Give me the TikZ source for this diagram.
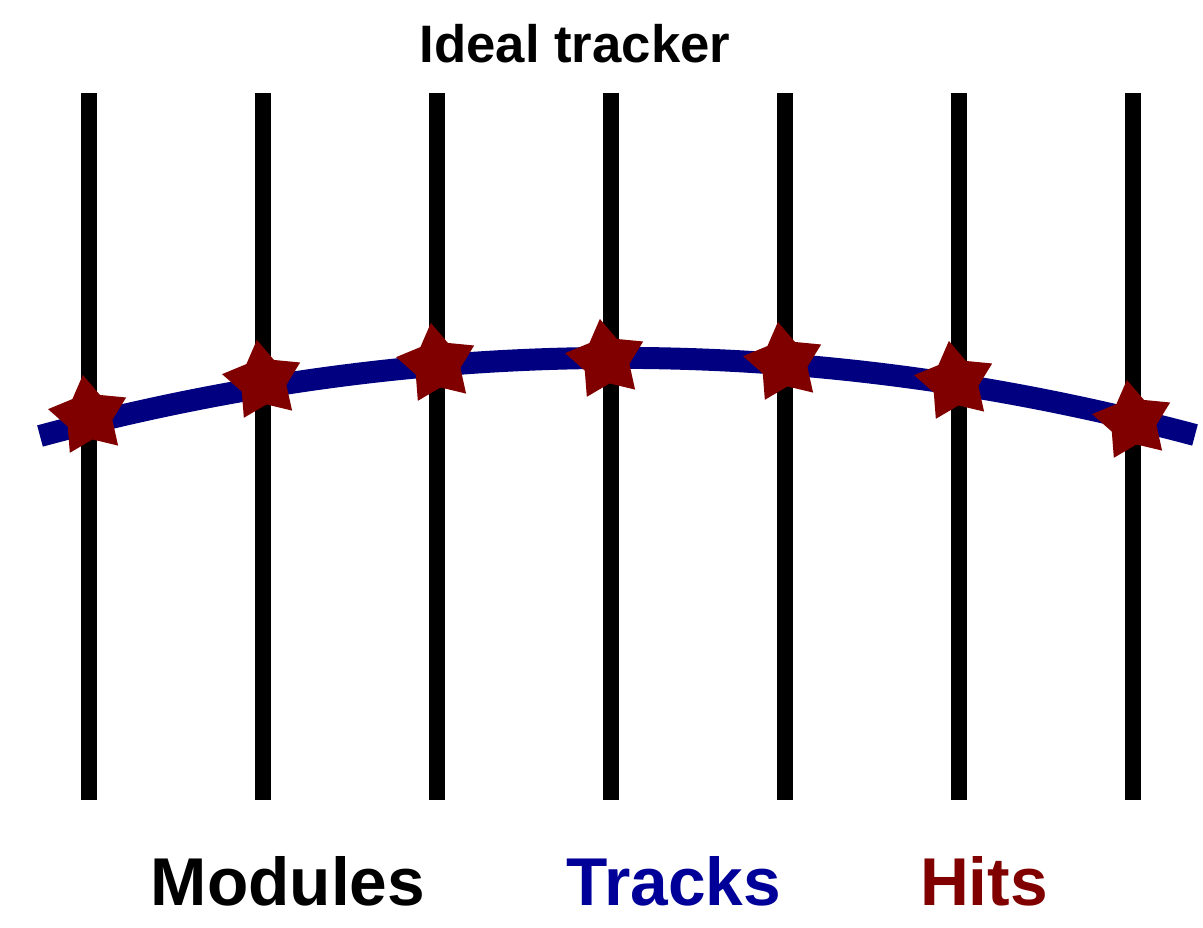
\documentclass[tikz,border=0pt]{standalone}
\usepackage{fontspec}
\setmainfont{Liberation Sans}
\usetikzlibrary{shapes.geometric}
\definecolor{trackblue}{HTML}{000080}
\definecolor{tracktext}{HTML}{000099}
\definecolor{hitred}{HTML}{800000}

\begin{document}
\begin{tikzpicture}[x=0.02cm, y=-0.02cm, font=\bfseries,
    module/.style={black, line width=0.32cm},
    track/.style={trackblue, line width=0.44cm},
    hit/.style={star, star points=5, star point ratio=1.75, minimum size=1.66cm, inner sep=0pt, fill=hitred, rotate=8.5},
    legend/.style={anchor=base, font=\fontsize{38.5}{46}\selectfont\bfseries}]
    \useasboundingbox (0,0) rectangle (1203,928);

    \node[anchor=base, font=\fontsize{30}{36}\selectfont\bfseries] (title) at (575,63) {Ideal tracker};

    % modules
    \foreach \x in {89,263,437,611,785,959,1133}
        \draw[module] (\x,93) -- (\x,800);

    % track
    \draw[track] (40,436) .. controls (425,332) and (810,332) .. (1195,435);

    % hits
    \foreach \x/\y [count=\i] in {89/416, 263/381, 437/364, 606/360, 784/363, 955/382, 1133/421}
        \node[hit] (hit\i) at (\x,\y) {};

    \node[legend] (modules) at (288,905) {Modules};
    \node[legend, tracktext] (tracks) at (674,905) {Tracks};
    \node[legend, hitred] (hits) at (984,905) {Hits};
\end{tikzpicture}
\end{document}
